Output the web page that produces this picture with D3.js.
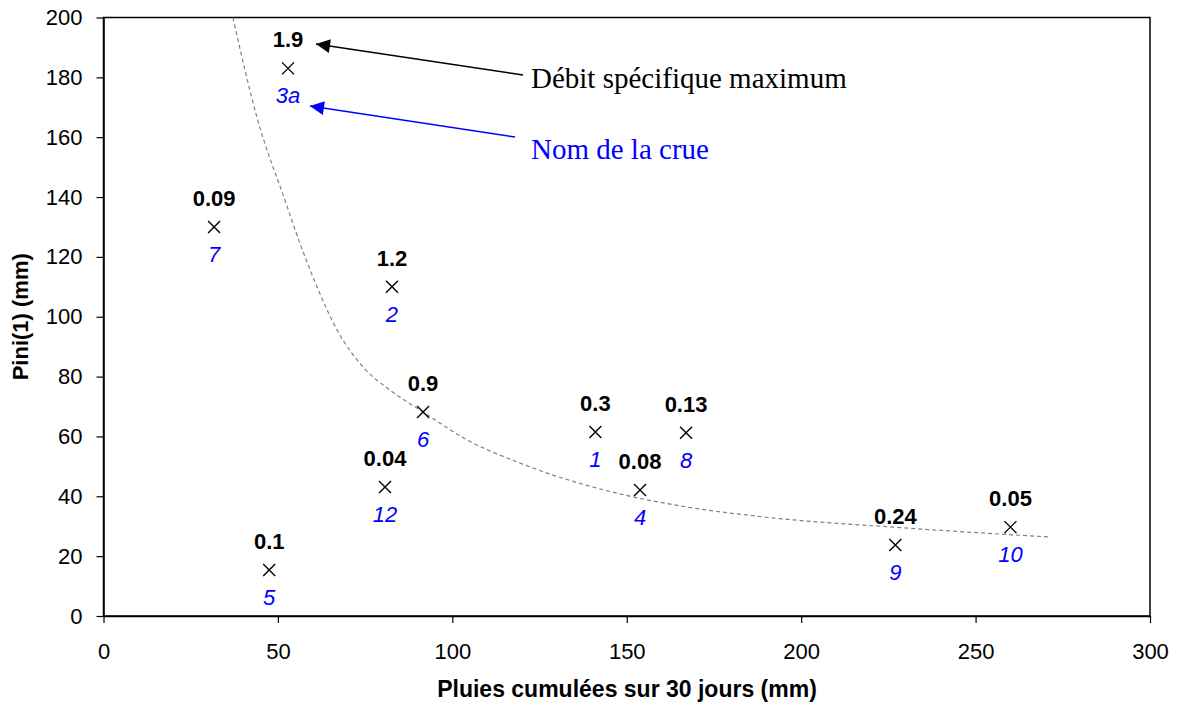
<!DOCTYPE html>
<html>
<head>
<meta charset="utf-8">
<script src="https://cdn.jsdelivr.net/npm/d3@7"></script>
<style>
  html, body { margin: 0; padding: 0; background: #fff; }
  svg { display: block; }
</style>
</head>
<body>
<svg id="chart" width="1179" height="704"></svg>
<script>
// ---- Data ----
const crueNames = ["3a", "7", "2", "6", "12", "5", "1", "4", "8", "9", "10"];
const pluies30j = [52.9, 31.7, 82.7, 91.6, 80.7, 47.5, 141, 153.8, 167, 227, 260];
const pini1     = [183, 130, 110, 68.2, 43.1, 15.4, 61.5, 42.1, 61.2, 23.7, 29.7];
const debitMax  = ["1.9", "0.09", "1.2", "0.9", "0.04", "0.1", "0.3", "0.08", "0.13", "0.24", "0.05"];

// dashed trend curve
const curveX = [37.1, 43.9, 52.0, 56.3, 61.2, 66.9, 74.4, 82.1, 91.6, 104, 119.4, 151.8, 165.3, 190, 226.3, 271.3];
const curveY = [200, 167, 139, 124.6, 110, 95.7, 83.2, 75.5, 68.2, 59, 51.1, 39.8, 36.8, 33, 29.7, 26.4];

const xTicks = [0, 50, 100, 150, 200, 250, 300];
const yTicks = [0, 20, 40, 60, 80, 100, 120, 140, 160, 180, 200];

const xTitle = "Pluies cumulées sur 30 jours (mm)";
const yTitle = "Pini(1) (mm)";
const annotDebit = "Débit spécifique maximum";
const annotNom = "Nom de la crue";

// ---- Layout ----
const svg = d3.select("#chart");
const pLeft = 103.5, pRight = 1150, pTop = 17.5, pBottom = 616;

const x = d3.scaleLinear().domain([0, 300]).range([pLeft, pRight]);
const y = d3.scaleLinear().domain([0, 200]).range([pBottom, pTop]);

const sans = "Liberation Sans, Arial, Helvetica, sans-serif";
const serif = "Liberation Serif, Times New Roman, serif";
const fs = 22;

// frame
svg.append("rect")
  .attr("x", pLeft).attr("y", pTop)
  .attr("width", pRight - pLeft).attr("height", pBottom - pTop)
  .attr("fill", "none").attr("stroke", "#000").attr("stroke-width", 1.5);

// axes
const xAxis = svg.append("g")
  .attr("transform", `translate(0,${pBottom})`)
  .call(d3.axisBottom(x).tickValues(xTicks).tickSize(7).tickSizeOuter(0).tickPadding(20));
const yAxis = svg.append("g")
  .attr("transform", `translate(${pLeft},0)`)
  .call(d3.axisLeft(y).tickValues(yTicks).tickSize(7).tickSizeOuter(0).tickPadding(14));

[xAxis, yAxis].forEach(a => {
  a.select(".domain").attr("stroke", "#000").attr("stroke-width", 1.5);
  a.selectAll(".tick line").attr("stroke", "#000").attr("stroke-width", 1.2);
  a.selectAll(".tick text")
    .attr("font-family", sans).attr("font-size", fs).attr("fill", "#000");
});

// axis titles
svg.append("text")
  .attr("x", 627).attr("y", 697)
  .attr("text-anchor", "middle")
  .attr("font-family", sans).attr("font-size", 23).attr("font-weight", "bold")
  .text(xTitle);
svg.append("text")
  .attr("transform", `translate(28,${(pTop + pBottom) / 2}) rotate(-90)`)
  .attr("text-anchor", "middle")
  .attr("font-family", sans).attr("font-size", fs).attr("font-weight", "bold")
  .text(yTitle);

// dashed trend curve
const curvePts = curveX.map((cx, i) => [cx, curveY[i]]);
svg.append("path")
  .datum(curvePts)
  .attr("fill", "none")
  .attr("stroke", "#808080")
  .attr("stroke-width", 1.2)
  .attr("stroke-dasharray", "4,3")
  .attr("d", d3.line().x(d => x(d[0])).y(d => y(d[1])).curve(d3.curveMonotoneX));

// points
const pts = crueNames.map((n, i) => ({ name: n, px: pluies30j[i], py: pini1[i], q: debitMax[i] }));
const g = svg.append("g");
const m = 6;
pts.forEach(d => {
  const cx = x(d.px), cy = y(d.py);
  g.append("path")
    .attr("d", `M${cx - m},${cy - m}L${cx + m},${cy + m}M${cx - m},${cy + m}L${cx + m},${cy - m}`)
    .attr("stroke", "#000").attr("stroke-width", 1.4).attr("fill", "none");
  g.append("text")
    .attr("x", cx).attr("y", cy - 21)
    .attr("text-anchor", "middle")
    .attr("font-family", sans).attr("font-size", fs).attr("font-weight", "bold")
    .attr("fill", "#000")
    .text(d.q);
  g.append("text")
    .attr("x", cx).attr("y", cy + 35)
    .attr("text-anchor", "middle")
    .attr("font-family", sans).attr("font-size", fs).attr("font-style", "italic")
    .attr("fill", "#0000FF")
    .text(d.name);
});

// annotation arrows
const defs = svg.append("defs");
function marker(id, color) {
  defs.append("marker")
    .attr("id", id).attr("viewBox", "0 0 10 10")
    .attr("refX", 10).attr("refY", 5)
    .attr("markerWidth", 15).attr("markerHeight", 14)
    .attr("markerUnits", "userSpaceOnUse")
    .attr("orient", "auto")
    .append("path").attr("d", "M0,0L10,5L0,10Z").attr("fill", color);
}
marker("arrK", "#000");
marker("arrB", "#0000FF");

svg.append("line")
  .attr("x1", 523).attr("y1", 75).attr("x2", 316).attr("y2", 44)
  .attr("stroke", "#000").attr("stroke-width", 1.5)
  .attr("marker-end", "url(#arrK)");
svg.append("line")
  .attr("x1", 515).attr("y1", 137).attr("x2", 310).attr("y2", 106)
  .attr("stroke", "#0000FF").attr("stroke-width", 1.5)
  .attr("marker-end", "url(#arrB)");

svg.append("text")
  .attr("x", 531).attr("y", 88)
  .attr("font-family", serif).attr("font-size", 29).attr("fill", "#000")
  .text(annotDebit);
svg.append("text")
  .attr("x", 531).attr("y", 159)
  .attr("font-family", serif).attr("font-size", 29).attr("fill", "#0000FF")
  .text(annotNom);
</script>
</body>
</html>
